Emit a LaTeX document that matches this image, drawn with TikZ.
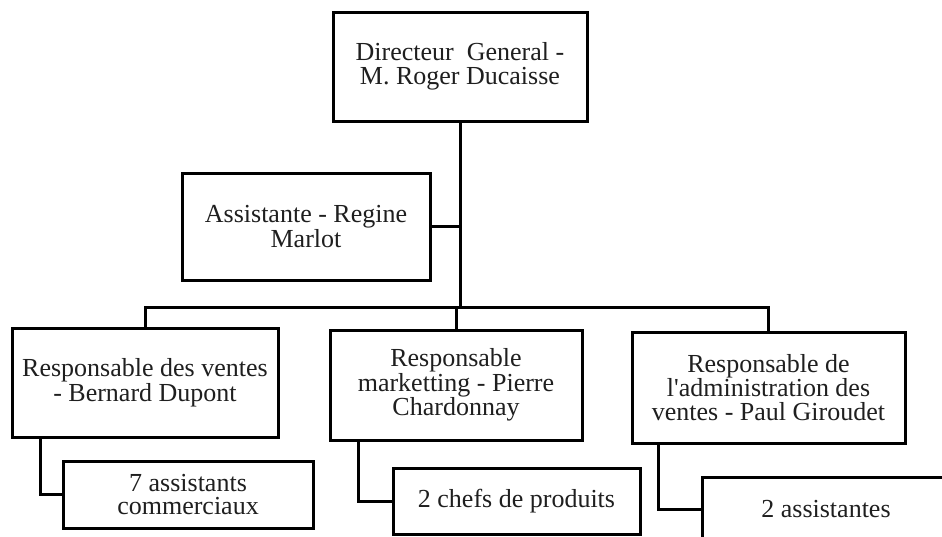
\documentclass[tikz,border=0pt]{standalone}
\usepackage{fontspec}
\setmainfont{Liberation Serif}
\begin{document}
\begin{tikzpicture}[x=1pt,y=-1pt,
  orgbox/.style={draw=black, line width=3pt, fill=white, inner sep=0pt, align=center,
    font=\fontsize{26}{23.5}\selectfont, text=black!88},
  link/.style={draw=black, line width=3pt, line cap=rect}]
\useasboundingbox (0,0) rectangle (942,536);
\clip (0,0) rectangle (942,536);
% nodes
\node[orgbox, minimum width=254pt, minimum height=109pt] (dg) at (460,66.5)
  {Directeur\ \ General -\\M. Roger Ducaisse};
\node[orgbox, minimum width=248pt, minimum height=107pt] (asst) at (306,226.5)
  {Assistante - Regine\\Marlot};
\node[orgbox, minimum width=266pt, minimum height=109pt] (v) at (145,382.5)
  {Responsable des ventes\\- Bernard Dupont};
\node[orgbox, minimum width=252pt, minimum height=110pt] (m) at (456,385)
  {Responsable\\marketting - Pierre\\Chardonnay};
\node[orgbox, minimum width=273pt, minimum height=111pt] (a) at (768.5,387.5)
  {Responsable de\\l\textquotesingle administration des\\ventes - Paul Giroudet};
\node[orgbox, minimum width=250pt, minimum height=67pt] (v7) at (188,494.5)
  {7 assistants\\commerciaux};
\node[orgbox, minimum width=247pt, minimum height=66pt] (mc) at (516.5,501)
  {2 chefs de produits};
\node[orgbox, minimum width=248pt, minimum height=64pt] (aa) at (826,509)
  {2 assistantes};
% helper coordinates
\coordinate (bus) at (457,307);
\coordinate (e1) at (40,0);
\coordinate (e2) at (358,0);
\coordinate (e3) at (658,0);
% connectors
\draw[link] (dg.south) -- (dg.south |- bus);
\draw[link] (asst.east) -- (asst.east -| dg.south);
\draw[link] (v.north |- bus) -- (a.north |- bus);
\draw[link] (v.north |- bus) -- (v.north);
\draw[link] (m.north |- bus) -- (m.north);
\draw[link] (a.north |- bus) -- (a.north);
\draw[link] (v.south -| e1) |- (v7.west);
\draw[link] (m.south -| e2) |- (mc.west);
\draw[link] (a.south -| e3) |- (aa.west);
\end{tikzpicture}
\end{document}
